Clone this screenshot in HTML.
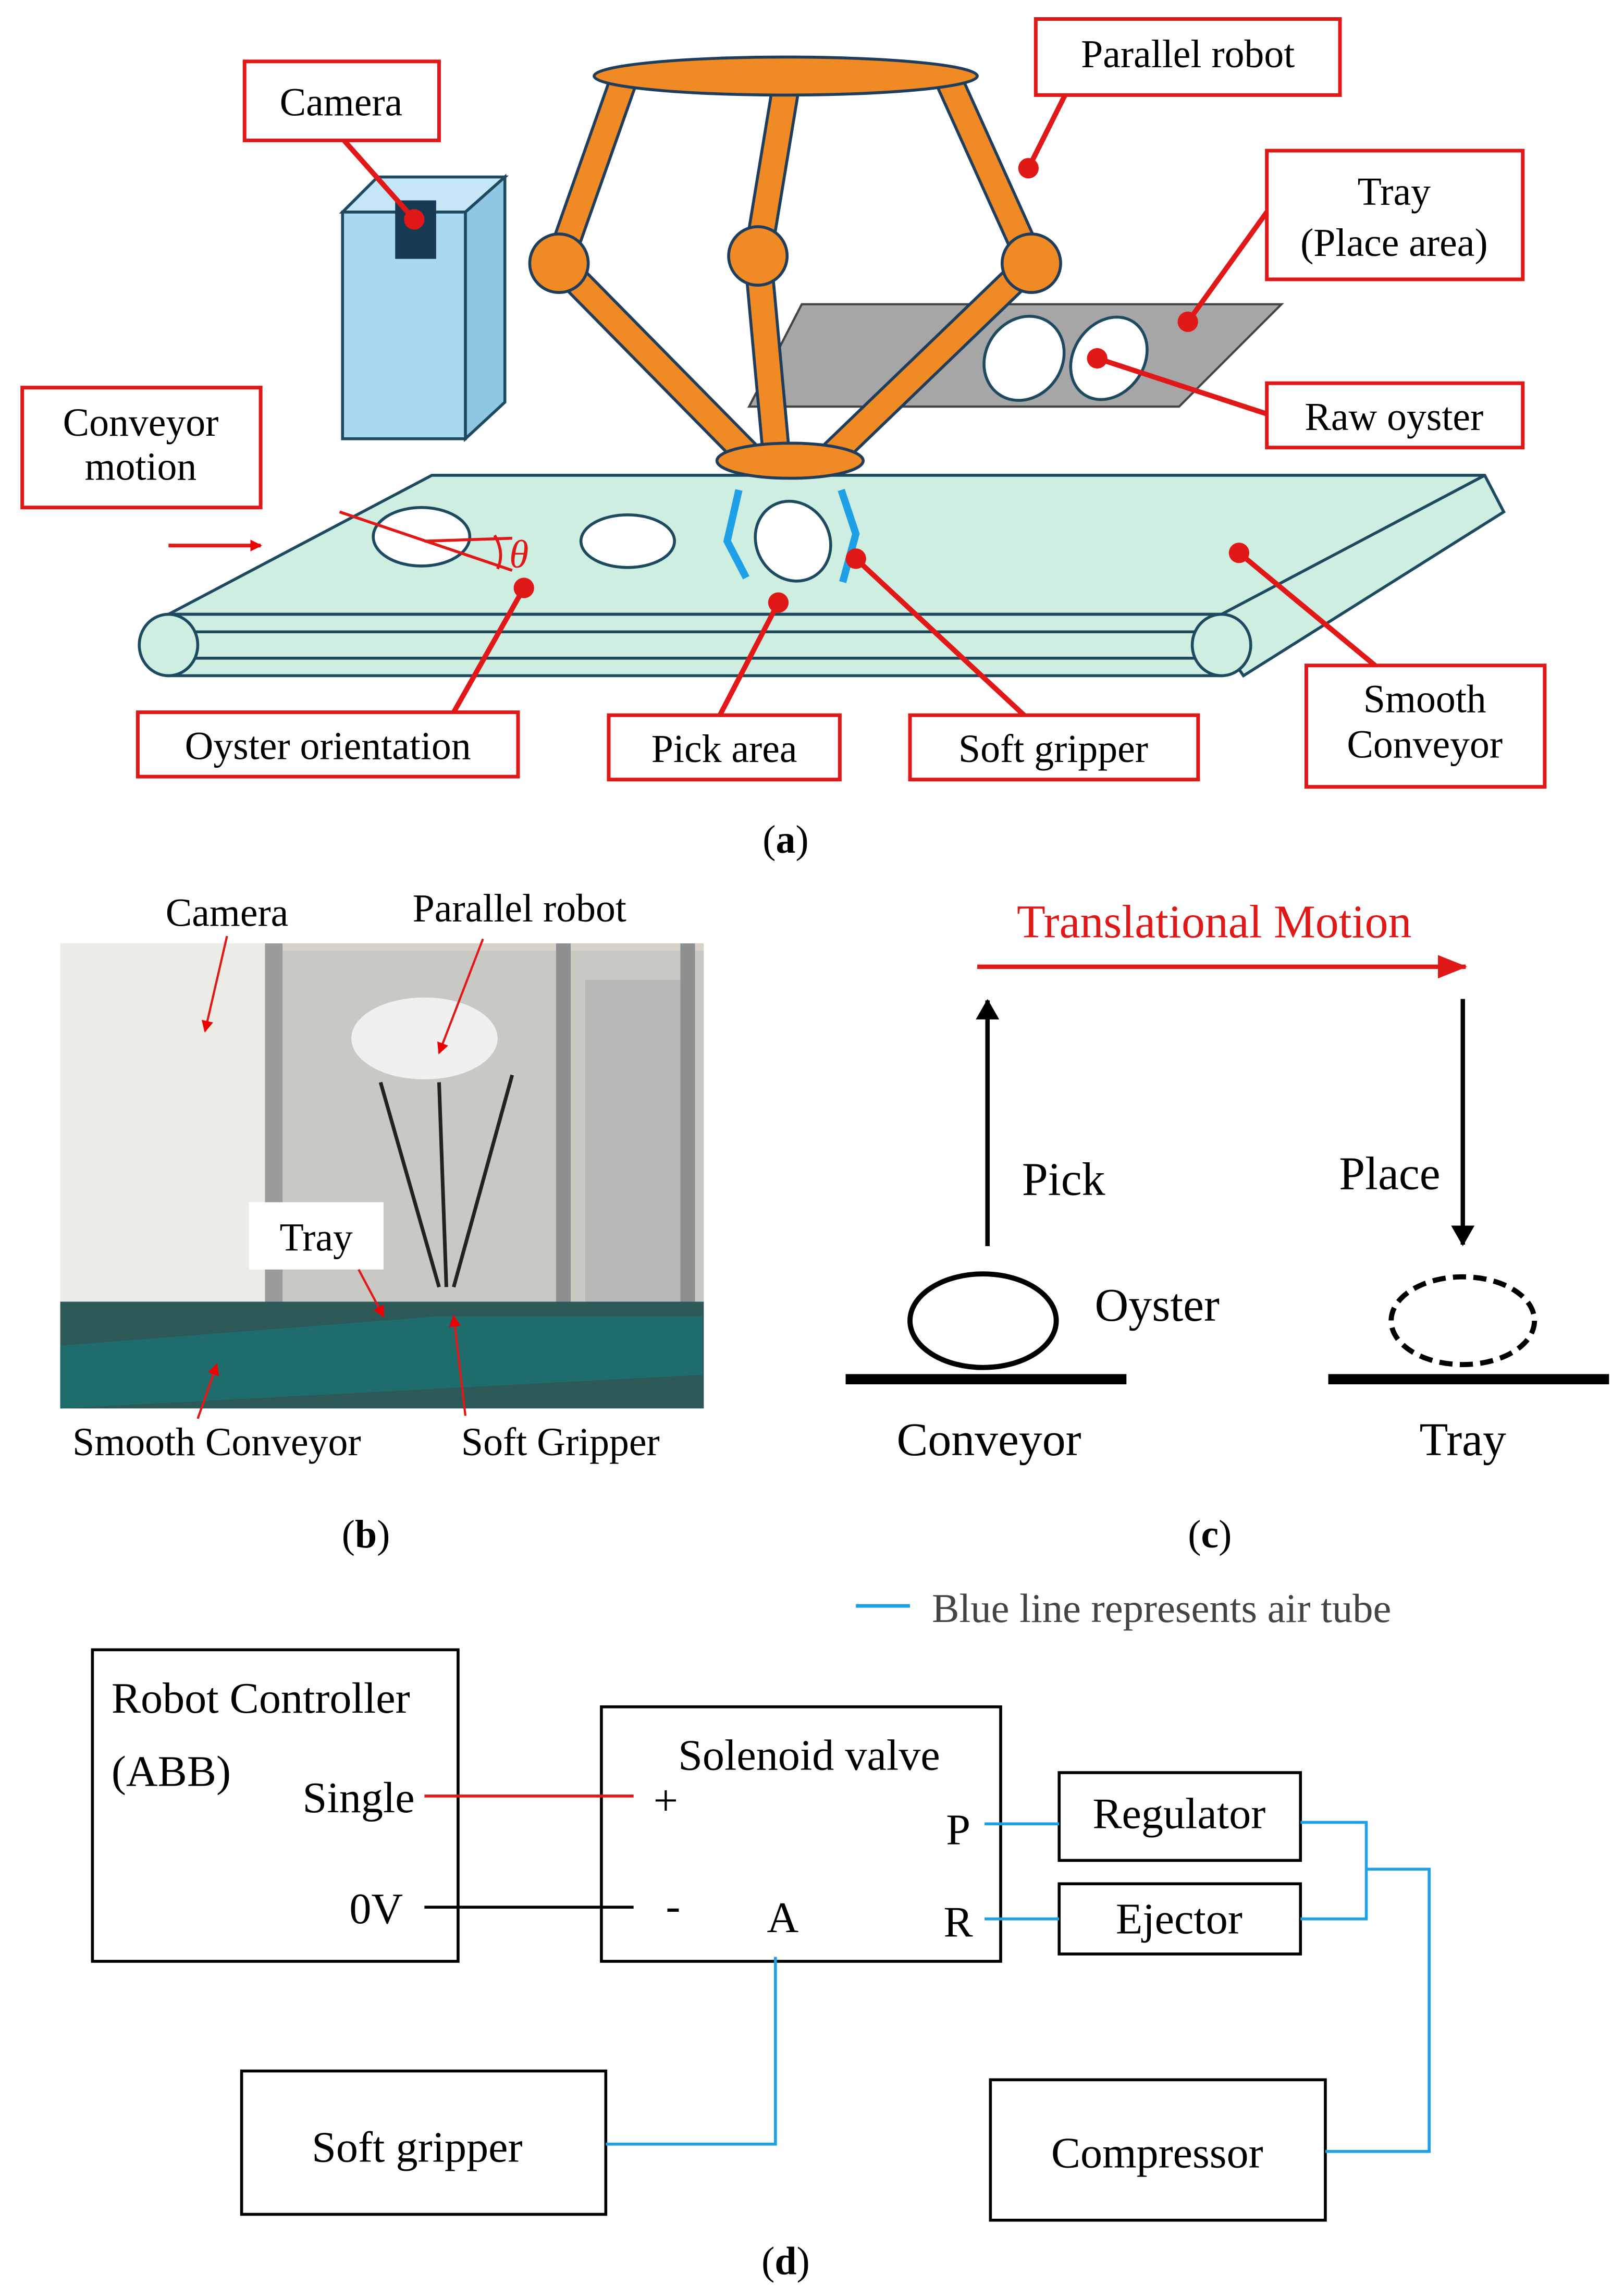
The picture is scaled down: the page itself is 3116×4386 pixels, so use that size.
<!DOCTYPE html>
<html><head><meta charset="utf-8"><style>
html,body{margin:0;padding:0;background:#fff}
svg{display:block}
text{font-family:"Liberation Serif",serif;fill:#000}
</style></head><body>
<svg width="3116" height="4386" viewBox="0 0 1110 1563" xmlns="http://www.w3.org/2000/svg">
<rect width="1110" height="1563" fill="#fff"/>
<defs>
<marker id="ar" markerWidth="8" markerHeight="8" refX="7" refY="4" orient="auto" markerUnits="userSpaceOnUse"><path d="M0,0 L8,4 L0,8z" fill="#e00"/></marker>
<marker id="ab" markerWidth="14" markerHeight="16" refX="13" refY="8" orient="auto" markerUnits="userSpaceOnUse"><path d="M0,0 L14,8 L0,16z" fill="#000"/></marker>
<marker id="ar2" markerWidth="20" markerHeight="16" refX="19" refY="8" orient="auto" markerUnits="userSpaceOnUse"><path d="M0,0 L20,8 L0,16z" fill="#e01818"/></marker>
</defs>
<g font-size="27">
<!-- (a) conveyor -->
<g stroke="#1e4a60" stroke-width="2" fill="#cdeee0">
<path d="M295,325 L1015,325 L1028,350 L850,462 L835,440 Z"/>
<path d="M295,325 L1015,325 L835,420 L115,420 Z"/>
<rect x="115" y="420" width="720" height="42"/>
<line x1="115" y1="432" x2="835" y2="432"/><line x1="115" y1="450" x2="835" y2="450"/>
<ellipse cx="115" cy="441" rx="20" ry="21"/>
<ellipse cx="835" cy="441" rx="20" ry="21"/>
</g>
<g stroke="#1e4a60" stroke-width="2" fill="#fff">
<ellipse cx="288" cy="367" rx="33" ry="20"/>
<ellipse cx="429" cy="370" rx="32" ry="18"/>
<ellipse cx="542" cy="370" rx="25" ry="28" transform="rotate(-30 542 370)"/>
</g>
<g stroke="#e01818" stroke-width="2"><line x1="232" y1="350" x2="350" y2="390"/><line x1="290" y1="370" x2="350" y2="368"/></g>
<path d="M338,366 Q345,378 340,389" stroke="#e01818" stroke-width="2" fill="none"/>
<text x="348" y="388" fill="#e01818" style="fill:#e01818;font-style:italic">θ</text>
<line x1="115" y1="373" x2="178" y2="373" stroke="#e01818" stroke-width="2.5" marker-end="url(#ar)"/>
<!-- tray -->
<path d="M548,208 L876,208 L806,278 L512,278 Z" fill="#a6a6a6" stroke="#444" stroke-width="1.5"/>
<ellipse cx="700" cy="245" rx="26" ry="30" transform="rotate(35 700 245)" fill="#fff" stroke="#1e4a60" stroke-width="2"/>
<ellipse cx="758" cy="245" rx="24" ry="30" transform="rotate(35 758 245)" fill="#fff" stroke="#1e4a60" stroke-width="2"/>
<!-- camera -->
<g stroke="#1e4a60" stroke-width="2" fill="#a9d8f0">
<path d="M234,145 L258,121 L345,121 L318,145 Z" fill="#c5e6f6"/>
<path d="M318,145 L345,121 L345,275 L318,300 Z" fill="#8fc6e2"/>
<rect x="234" y="145" width="84" height="155"/>
</g>
<rect x="270" y="137" width="28" height="40" fill="#173a52"/>
<!-- robot -->
<g stroke-linecap="round">
<g stroke="#1f3d5c" stroke-width="20" fill="none">
<polyline points="425,58 382,180 510,310"/><polyline points="537,60 518,175 530,305"/><polyline points="650,58 705,180 570,310"/>
</g>
<g stroke="#f08a24" stroke-width="16" fill="none">
<polyline points="425,58 382,180 510,310"/><polyline points="537,60 518,175 530,305"/><polyline points="650,58 705,180 570,310"/>
</g>
</g>
<g fill="#f08a24" stroke="#1f3d5c" stroke-width="2">
<ellipse cx="537" cy="52" rx="131" ry="13"/>
<circle cx="382" cy="180" r="20"/><circle cx="518" cy="175" r="20"/><circle cx="705" cy="180" r="20"/>
<ellipse cx="540" cy="315" rx="50" ry="12"/>
</g>
<g stroke="#1ea0e6" stroke-width="5" fill="none"><polyline points="505,335 497,370 510,395"/><polyline points="575,335 585,365 576,398"/></g>
<!-- label boxes -->
<g fill="#fff" stroke="#e01818" stroke-width="2.5">
<rect x="167" y="42" width="133" height="54"/><rect x="708" y="13" width="208" height="52"/>
<rect x="866" y="103" width="175" height="88"/><rect x="866" y="262" width="175" height="44"/>
<rect x="15" y="265" width="163" height="82"/><rect x="94" y="487" width="260" height="44"/>
<rect x="416" y="489" width="158" height="44"/><rect x="622" y="489" width="197" height="44"/>
<rect x="893" y="455" width="163" height="83"/>
</g>
<g stroke="#e01818" stroke-width="3.5">
<line x1="235" y1="96" x2="283" y2="150"/><line x1="728" y1="65" x2="703" y2="115"/>
<line x1="866" y1="145" x2="812" y2="220"/><line x1="866" y1="283" x2="750" y2="245"/>
<line x1="310" y1="487" x2="358" y2="402"/><line x1="492" y1="489" x2="532" y2="412"/>
<line x1="700" y1="489" x2="585" y2="382"/><line x1="940" y1="455" x2="847" y2="378"/>
</g>
<g fill="#e01818"><circle cx="283" cy="150" r="7"/><circle cx="703" cy="115" r="7"/><circle cx="812" cy="220" r="7"/><circle cx="750" cy="245" r="7"/><circle cx="358" cy="402" r="7"/><circle cx="532" cy="412" r="7"/><circle cx="585" cy="382" r="7"/><circle cx="847" cy="378" r="7"/></g>
<g text-anchor="middle">
<text x="233" y="79">Camera</text><text x="812" y="46">Parallel robot</text>
<text x="953" y="140">Tray</text><text x="953" y="175">(Place area)</text>
<text x="953" y="294">Raw oyster</text>
<text x="96" y="298">Conveyor</text><text x="96" y="328">motion</text>
<text x="224" y="519">Oyster orientation</text><text x="495" y="521">Pick area</text>
<text x="720" y="521">Soft gripper</text>
<text x="974" y="487">Smooth</text><text x="974" y="518">Conveyor</text>
<text x="537" y="583">(<tspan font-weight="bold">a</tspan>)</text>
</g>
<!-- (b) photo -->
<rect x="41" y="645" width="440" height="318" fill="#d6d2c8"/>
<rect x="41" y="645" width="140" height="245" fill="#ecebe6"/>
<rect x="181" y="650" width="300" height="240" fill="#c9c8c3"/>
<rect x="400" y="670" width="75" height="220" fill="#b8bab8"/>
<rect x="181" y="645" width="12" height="300" fill="#9a9c9c"/>
<rect x="380" y="645" width="10" height="300" fill="#8e9090"/>
<rect x="465" y="645" width="10" height="300" fill="#8e9090"/>
<ellipse cx="290" cy="710" rx="50" ry="28" fill="#f0f0f0"/>
<g stroke="#222" stroke-width="2.5"><line x1="260" y1="740" x2="300" y2="880"/><line x1="300" y1="740" x2="305" y2="880"/><line x1="350" y1="735" x2="310" y2="880"/></g>
<rect x="41" y="890" width="440" height="73" fill="#2d5a58"/>
<path d="M41,920 L300,900 L480,900 L480,940 L41,963 Z" fill="#1f6c6c"/>
<rect x="170" y="822" width="92" height="46" fill="#fff"/>
<g stroke="#e01818" stroke-width="1.5" fill="none">
<line x1="155" y1="640" x2="140" y2="705" marker-end="url(#ar)"/><line x1="330" y1="642" x2="300" y2="720" marker-end="url(#ar)"/>
<line x1="245" y1="868" x2="262" y2="900" marker-end="url(#ar)"/><line x1="135" y1="970" x2="148" y2="933" marker-end="url(#ar)"/>
<line x1="318" y1="968" x2="310" y2="900" marker-end="url(#ar)"/>
</g>
<g text-anchor="middle">
<text x="155" y="633">Camera</text><text x="355" y="630">Parallel robot</text>
<text x="216" y="855">Tray</text><text x="148" y="995">Smooth Conveyor</text><text x="383" y="995">Soft Gripper</text>
<text x="250" y="1058">(<tspan font-weight="bold">b</tspan>)</text>
</g>
<!-- (c) -->
<text x="830" y="641" text-anchor="middle" font-size="32" style="fill:#e01818">Translational Motion</text>
<line x1="668" y1="661" x2="1002" y2="661" stroke="#e01818" stroke-width="3" marker-end="url(#ar2)"/>
<line x1="675" y1="852" x2="675" y2="684" stroke="#000" stroke-width="3" marker-end="url(#ab)"/>
<line x1="1000" y1="683" x2="1000" y2="851" stroke="#000" stroke-width="3" marker-end="url(#ab)"/>
<ellipse cx="672" cy="903" rx="50" ry="32" fill="none" stroke="#000" stroke-width="3.5"/>
<ellipse cx="1000" cy="903" rx="49" ry="30" fill="none" stroke="#000" stroke-width="3.5" stroke-dasharray="9,5"/>
<line x1="578" y1="943" x2="770" y2="943" stroke="#000" stroke-width="7"/>
<line x1="908" y1="943" x2="1100" y2="943" stroke="#000" stroke-width="7"/>
<g font-size="32" text-anchor="middle">
<text x="727" y="817">Pick</text><text x="950" y="813">Place</text><text x="791" y="903">Oyster</text>
<text x="676" y="995">Conveyor</text><text x="1000" y="995">Tray</text>
</g>
<text x="827" y="1058" text-anchor="middle">(<tspan font-weight="bold">c</tspan>)</text>
<!-- (d) -->
<line x1="585" y1="1098" x2="622" y2="1098" stroke="#1ea0e6" stroke-width="2.5"/>
<text x="637" y="1109" font-size="28" style="fill:#444">Blue line represents air tube</text>
<g fill="none" stroke="#000" stroke-width="2">
<rect x="63" y="1128" width="250" height="213"/><rect x="411" y="1167" width="273" height="174"/>
<rect x="724" y="1212" width="165" height="60"/><rect x="724" y="1288" width="165" height="48"/>
<rect x="677" y="1422" width="229" height="96"/><rect x="165" y="1416" width="249" height="98"/>
</g>
<line x1="290" y1="1228" x2="433" y2="1228" stroke="#e01818" stroke-width="2"/>
<line x1="290" y1="1304" x2="433" y2="1304" stroke="#000" stroke-width="2"/>
<g stroke="#1ea0e6" stroke-width="2" fill="none">
<line x1="673" y1="1247" x2="724" y2="1247"/><line x1="673" y1="1312" x2="724" y2="1312"/>
<polyline points="889,1246 934,1246 934,1312 889,1312"/>
<polyline points="934,1278 977,1278 977,1471 906,1471"/>
<polyline points="530,1338 530,1466 414,1466"/>
</g>
<g font-size="30">
<text x="76" y="1171">Robot Controller</text><text x="76" y="1221">(ABB)</text>
<g text-anchor="middle">
<text x="245" y="1239">Single</text><text x="257" y="1315">0V</text>
<text x="553" y="1210">Solenoid valve</text><text x="455" y="1241">+</text><text x="460" y="1313">-</text>
<text x="535" y="1321">A</text><text x="655" y="1261">P</text><text x="655" y="1324">R</text>
<text x="806" y="1250">Regulator</text><text x="806" y="1322">Ejector</text>
<text x="791" y="1482">Compressor</text><text x="285" y="1478">Soft gripper</text>
</g>
</g>
<text x="537" y="1555" text-anchor="middle">(<tspan font-weight="bold">d</tspan>)</text>
</g>
</svg>
</body></html>
